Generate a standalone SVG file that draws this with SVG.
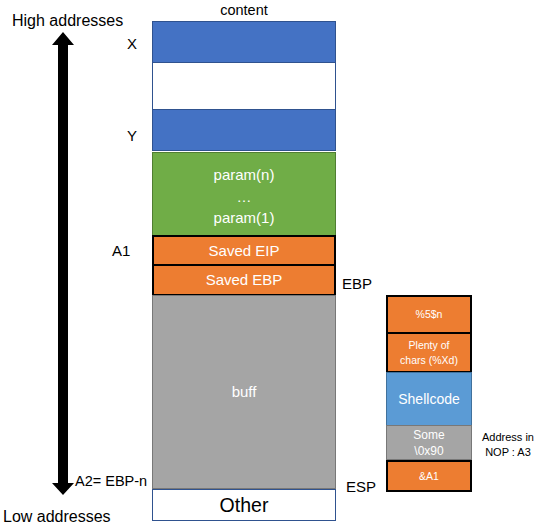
<svg xmlns="http://www.w3.org/2000/svg" width="542" height="528" viewBox="0 0 542 528">
<style>
text{font-family:"Liberation Sans",Arial,sans-serif;fill:#000}
.w{fill:#fff}
.m{text-anchor:middle}
.blue{fill:#4472C4;stroke:#2F528F;stroke-width:1}
.wb{fill:#fff;stroke:#2F528F;stroke-width:1}
.green{fill:#70AD47;stroke:#507E32;stroke-width:1}
.orb{fill:#ED7D31;stroke:#000;stroke-width:2}
.gray{fill:#A5A5A5;stroke:#787878;stroke-width:1}
.sc{fill:#5B9BD5;stroke:#41719C;stroke-width:1}
</style>
<rect width="542" height="528" fill="#fff"/>
<g id="axis">
<polygon points="63,32 74,45 68,45 68,483 74,483 63,495 52,483 58,483 58,45 52,45"/>
<text x="12" y="26" font-size="16">High addresses</text>
<text x="3" y="522" font-size="16">Low addresses</text>
</g>
<text x="244" y="15" font-size="14.5" class="m">content</text>
<g id="x"><rect class="blue" x="152.5" y="21.5" width="183" height="41"/><text x="127" y="49" font-size="15">X</text></g>
<g id="gap"><rect class="wb" x="152.5" y="62.5" width="183" height="47"/></g>
<g id="y"><rect class="blue" x="152.5" y="109.5" width="183" height="41"/><text x="127" y="141" font-size="15">Y</text></g>
<g id="params"><rect class="green" x="152.5" y="152.5" width="183" height="83"/>
<text class="w m" x="244" y="180" font-size="15">param(n)</text>
<text class="w m" x="244" y="202" font-size="15">…</text>
<text class="w m" x="244" y="223" font-size="15">param(1)</text></g>
<g id="eip"><rect class="orb" x="153" y="236" width="182" height="29"/><text class="w m" x="244" y="256" font-size="15">Saved EIP</text><text x="112" y="256" font-size="15">A1</text></g>
<g id="ebp"><rect class="orb" x="153" y="265" width="182" height="30"/><text class="w m" x="244" y="285" font-size="15">Saved EBP</text><text x="342" y="289" font-size="15">EBP</text></g>
<g id="buff"><rect class="gray" x="152.5" y="295.5" width="183" height="193"/><text class="w m" x="244" y="397" font-size="15">buff</text>
<text x="75" y="486" font-size="14.5">A2= EBP-n</text></g>
<g id="other"><rect class="wb" x="152.5" y="489.5" width="183" height="31"/><text class="m" x="244" y="512" font-size="19.5">Other</text></g>
<text x="346" y="492" font-size="15">ESP</text>
<g id="fmt"><rect class="orb" x="387" y="296" width="84" height="37"/><text class="w m" x="429" y="318" font-size="10.5">%5$n</text></g>
<g id="plenty"><rect class="orb" x="387" y="333" width="84" height="39"/><text class="w m" x="429" y="349" font-size="10.5">Plenty of</text><text class="w m" x="429" y="364" font-size="10.5">chars (%Xd)</text></g>
<g id="shell"><rect class="sc" x="386.5" y="372.5" width="85" height="53"/><text class="w m" x="429" y="404" font-size="14">Shellcode</text></g>
<g id="nop"><rect class="gray" x="386.5" y="425.5" width="85" height="34"/><text class="w m" x="429" y="439" font-size="12">Some</text><text class="w m" x="429" y="455" font-size="12">\0x90</text>
<text class="m" x="508" y="441" font-size="11">Address in</text><text class="m" x="508" y="456" font-size="11">NOP : A3</text></g>
<g id="a1ref"><rect class="orb" x="387" y="461" width="84" height="30"/><text class="w m" x="429" y="480" font-size="10.5">&amp;A1</text></g>
<g id="connectors"></g>
</svg>
